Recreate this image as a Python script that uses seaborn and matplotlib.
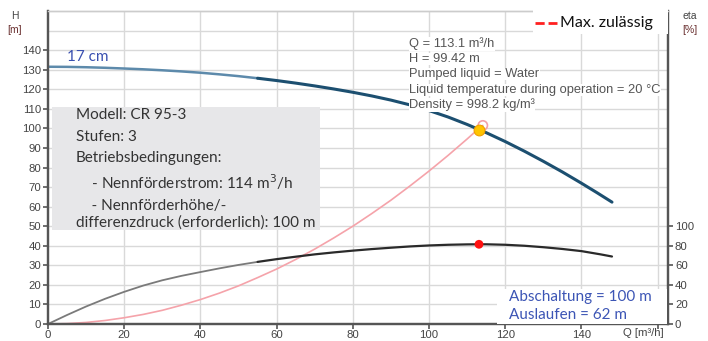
import numpy as np
import pandas as pd
import matplotlib.pyplot as plt
import seaborn as sns
from matplotlib.lines import Line2D
from matplotlib.patches import Rectangle

# Pump curve (head)
q_head = [0, 5, 10, 15, 20, 25, 30, 35, 40, 45, 50, 55, 60, 65, 70, 75, 80, 85, 90, 95,
          100, 105, 110, 113.1, 115, 120, 125, 130, 135, 140, 144, 148]
head = [131.5, 131.44, 131.25, 130.97, 130.6, 130.2, 129.7, 129.12, 128.45, 127.62, 126.7,
        125.63, 124.45, 123.14, 121.7, 120.14, 118.45, 116.57, 114.45, 112.0, 109.1, 105.8,
        102.0, 99.4, 97.8, 93.25, 88.35, 83.15, 77.7, 71.95, 67.2, 62.3]

# System curve (pink)
q_sys = [0, 5, 10, 15, 20, 25, 30, 35, 40, 45, 50, 55, 60, 65, 70, 75, 80, 85, 90, 95,
         100, 105, 110, 113.1, 114.1]
h_sys = [0, 0.2, 0.8, 1.8, 3.2, 4.9, 7.0, 9.6, 12.5, 15.8, 19.5, 23.7, 28.1, 33.0, 38.3,
         44.0, 50.0, 56.5, 63.3, 70.6, 78.2, 86.2, 94.6, 100.0, 101.5]

# Efficiency curve (right axis, %)
q_eta = [0, 5, 10, 15, 20, 25, 30, 35, 40, 45, 50, 55, 60, 65, 70, 75, 80, 85, 90, 95,
         100, 105, 110, 113.1, 115, 120, 125, 130, 135, 140, 145, 148]
eta = [0, 9.2, 17.9, 25.8, 32.9, 39.3, 44.7, 49.2, 53.1, 56.9, 60.4, 63.5, 66.3, 68.8, 71.2,
       73.2, 75.0, 76.6, 78.0, 79.3, 80.3, 81.0, 81.4, 81.5, 81.5, 81.0, 80.0, 78.5, 76.7,
       74.5, 71.2, 69.0]

duty_q, duty_h, duty_eta = 113.1, 99.42, 81.5

x_ticks = [0, 20, 40, 60, 80, 100, 120, 140]
h_ticks = [0, 10, 20, 30, 40, 50, 60, 70, 80, 90, 100, 110, 120, 130, 140]
eta_ticks = [0, 20, 40, 60, 80, 100]

info_lines = ["Q = 113.1 m³/h", "H = 99.42 m", "Pumped liquid = Water",
              "Liquid temperature during operation = 20 °C", "Density = 998.2 kg/m³"]
box_lines = ["Modell: CR 95-3", "Stufen: 3", "Betriebsbedingungen:",
             "    - Nennförderstrom: 114 m$^3$/h", "    - Nennförderhöhe/-",
             "differenzdruck (erforderlich): 100 m"]

df_head = pd.DataFrame({"Q": q_head, "H": head})
df_sys = pd.DataFrame({"Q": q_sys, "H": h_sys})
df_eta = pd.DataFrame({"Q": q_eta, "eta": eta})

sns.set_theme(style="white")
plt.rcParams["font.family"] = ["Liberation Sans", "DejaVu Sans"]
humanist = ["Lato", "DejaVu Sans"]

fig = plt.figure(figsize=(7.08, 3.41), dpi=100)
ax = fig.add_axes([48 / 708, 17 / 341, 620 / 708, 313 / 341])
ax2 = ax.twinx()

ax.set_xlim(0, 162.7)
ax.set_ylim(0, 160)
ax2.set_ylim(0, 320)

# grid
for v in range(20, 161, 20):
    ax.axvline(v, color="#d9d9d9", lw=1, zorder=0)
for v in range(10, 160, 10):
    ax.axhline(v, color="#d9d9d9", lw=1, zorder=0)

# curves: the left part of the head and eta curves is drawn lighter, as in the original
light = df_head["Q"] <= 55
dark = df_head["Q"] >= 55
sns.lineplot(data=df_head[light], x="Q", y="H", ax=ax, color="#5d8aab", lw=1.8, estimator=None, sort=False)
sns.lineplot(data=df_head[dark], x="Q", y="H", ax=ax, color="#1c4f70", lw=2.2, estimator=None, sort=False)
sns.lineplot(data=df_sys, x="Q", y="H", ax=ax, color="#f5a3aa", lw=1.2, estimator=None, sort=False)

le = df_eta["Q"] <= 55
de = df_eta["Q"] >= 55
sns.lineplot(data=df_eta[le], x="Q", y="eta", ax=ax2, color="#7a7a7a", lw=1.3, estimator=None, sort=False)
sns.lineplot(data=df_eta[de], x="Q", y="eta", ax=ax2, color="#2a2a2a", lw=1.6, estimator=None, sort=False)

# duty points
sns.scatterplot(x=[q_sys[-1]], y=[h_sys[-1]], ax=ax, s=45, facecolor="none",
                edgecolor="#f3a0a8", linewidth=1.2, zorder=5)
sns.scatterplot(x=[duty_q], y=[duty_h], ax=ax, s=60, color="#ffc400",
                edgecolor="#f0a000", linewidth=0.8, zorder=6)
sns.scatterplot(x=[duty_q], y=[duty_eta], ax=ax2, s=40, color="#ff1010",
                edgecolor="none", zorder=6)

ax.set_xlabel("")
ax.set_ylabel("")
ax2.set_ylabel("")

ax.set_xticks(x_ticks + [160])
ax.set_xticklabels([str(t) for t in x_ticks] + [""])
ax.set_yticks(h_ticks)
ax2.set_yticks(eta_ticks)
for a in (ax, ax2):
    a.tick_params(direction="out", length=3.5, width=1.2, color="#555555",
                  labelsize=8.2, labelcolor="#444444", pad=1.5)
    for s in ["left", "bottom", "right"]:
        a.spines[s].set_color("#555555")
        a.spines[s].set_linewidth(1.6)
    a.spines["top"].set_color("#cccccc")
    a.spines["top"].set_linewidth(1)
ax.tick_params(axis="x", pad=0.5)
ax.tick_params(axis="y", left=True)
ax.tick_params(axis="x", bottom=True)
ax2.tick_params(axis="y", right=True)

# axis titles
fig.text(15 / 708, 1 - 16 / 341, "H", fontsize=7.5, color="#444444", ha="center", va="center")
fig.text(15 / 708, 1 - 30 / 341, "[m]", fontsize=7.5, color="#6a3030", ha="center", va="center")
fig.text(690 / 708, 1 - 16 / 341, "eta", fontsize=7.5, color="#444444", ha="center", va="center")
fig.text(690 / 708, 1 - 30 / 341, "[%]", fontsize=7.5, color="#6a3030", ha="center", va="center")
fig.text(643 / 708, 1 - 333 / 341, "Q [m³/h]", fontsize=8.2, color="#444444", ha="center", va="center")

# info text at duty point
info_y = [44, 59, 74, 90, 105]
for line, yy in zip(info_lines, info_y):
    fig.text(409 / 708, 1 - yy / 341, line, fontsize=9.3, color="#555555", va="center", ha="left",
             bbox=dict(facecolor="white", edgecolor="none", pad=0.3))

# grey description box
fig.patches.append(Rectangle((52 / 708, 1 - 230 / 341), 268 / 708, 123 / 341,
                             transform=fig.transFigure, facecolor="#e7e7e9", edgecolor="none", zorder=3))
box_y = [115, 137, 158, 182, 206, 223]
for line, yy in zip(box_lines, box_y):
    fig.text(76 / 708, 1 - yy / 341, line, fontsize=11, color="#333333", va="center", ha="left",
             family=humanist, zorder=4)

# 17 cm label
fig.text(67 / 708, 1 - 57 / 341, "17 cm", fontsize=11, color="#3a50b0", va="center", ha="left",
         family=humanist)

# shut-off / run-out box
fig.patches.append(Rectangle((497 / 708, 1 - 324 / 341), 170 / 708, 35 / 341,
                             transform=fig.transFigure, facecolor="white", edgecolor="none", zorder=3))
fig.text(509 / 708, 1 - 297 / 341, "Abschaltung = 100 m", fontsize=11, color="#3c55b5",
         va="center", ha="left", family=humanist, zorder=4)
fig.text(509 / 708, 1 - 315 / 341, "Auslaufen = 62 m", fontsize=11, color="#3c55b5",
         va="center", ha="left", family=humanist, zorder=4)

# "Max. zulässig" legend box, top right
fig.patches.append(Rectangle((533 / 708, 1 - 34 / 341), 135 / 708, 32 / 341,
                             transform=fig.transFigure, facecolor="white", edgecolor="none", zorder=8))
fig.add_artist(Line2D([535 / 708, 557 / 708], [1 - 23 / 341, 1 - 23 / 341], transform=fig.transFigure,
                      color="#ff2020", lw=2, ls=(0, (3.3, 1.4)), zorder=9))
fig.text(560 / 708, 1 - 23 / 341, "Max. zulässig", fontsize=11.5, color="#111111", va="center",
         ha="left", family=humanist, zorder=9)

fig.savefig("out.png", dpi=100)
